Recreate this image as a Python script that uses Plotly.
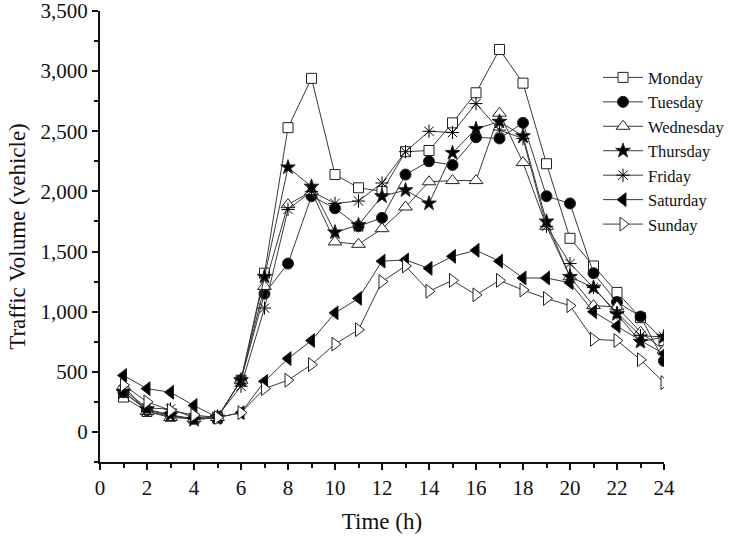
import plotly.graph_objects as go

hours = list(range(1, 25))
monday = [290, 170, 130, 110, 120, 430, 1320, 2530, 2940, 2140, 2030, 2000, 2330, 2340, 2570, 2820, 3180, 2900, 2230, 1610, 1380, 1160, 950, 760]
tuesday = [330, 180, 140, 110, 120, 430, 1150, 1400, 1960, 1860, 1710, 1780, 2140, 2250, 2220, 2450, 2440, 2570, 1960, 1900, 1320, 1080, 960, 590]
wednesday = [380, 170, 120, 110, 120, 430, 1210, 1890, 2000, 1580, 1560, 1690, 1870, 2080, 2090, 2090, 2650, 2240, 1710, 1290, 1050, 1040, 830, 680]
thursday = [330, 190, 140, 100, 120, 430, 1290, 2200, 2040, 1660, 1720, 1960, 2010, 1900, 2320, 2520, 2580, 2460, 1750, 1290, 1200, 980, 750, 790]
friday = [350, 200, 190, 120, 130, 380, 1030, 1850, 2000, 1900, 1920, 2070, 2330, 2500, 2490, 2730, 2510, 2440, 1710, 1400, 1200, 990, 800, 790]
saturday = [470, 360, 330, 220, 120, 160, 420, 610, 760, 990, 1110, 1420, 1430, 1360, 1460, 1510, 1420, 1280, 1280, 1240, 1000, 880, 760, 650]
sunday = [390, 250, 180, 140, 120, 160, 360, 430, 560, 730, 850, 1250, 1380, 1170, 1260, 1140, 1260, 1180, 1110, 1050, 770, 760, 600, 410]

series = [
    ("Monday", monday, "square", "white", 10),
    ("Tuesday", tuesday, "circle", "black", 11),
    ("Wednesday", wednesday, "triangle-up", "white", 12),
    ("Thursday", thursday, "star", "black", 11),
    ("Friday", friday, "asterisk-open", "black", 11),
    ("Saturday", saturday, "triangle-left", "black", 12),
    ("Sunday", sunday, "triangle-right", "white", 12),
]

fig = go.Figure()
for name, vals, sym, fill, size in series:
    fig.add_trace(go.Scatter(
        x=hours, y=vals, name=name, mode="lines+markers",
        line=dict(color="#3a3a3a", width=1),
        marker=dict(symbol=sym, size=size, color=fill,
                    line=dict(color="#222222", width=1)),
    ))

font = "Liberation Serif, Times New Roman, serif"
fig.update_layout(
    width=743, height=541,
    margin=dict(l=100, r=79, t=11, b=79),
    paper_bgcolor="white", plot_bgcolor="white",
    font=dict(family=font, size=19, color="#111111"),
    showlegend=True,
    legend=dict(x=0.883, y=0.891, xanchor="left", yanchor="top",
                font=dict(family=font, size=16.5, color="#111111"),
                bgcolor="rgba(0,0,0,0)", tracegroupgap=0,
                itemwidth=40),
)
fig.update_xaxes(
    range=[0, 24], tickmode="linear", tick0=0, dtick=2,
    automargin=False, ticklabeloverflow="allow",
    showline=True, linecolor="#111111", linewidth=2,
    ticks="outside", ticklen=6, tickwidth=2, tickcolor="#111111",
    minor=dict(ticks="outside", ticklen=4, tickwidth=1.5, dtick=1, tickcolor="#111111"),
    showgrid=False, zeroline=False,
    title=dict(text="Time (h)", font=dict(family=font, size=23), standoff=14),
    tickfont=dict(family=font, size=21),
)
fig.update_yaxes(
    range=[-250, 3500], tickmode="linear", tick0=0, dtick=500,
    tickformat=",d", automargin=False, ticklabeloverflow="allow",
    showline=True, linecolor="#111111", linewidth=2,
    ticks="outside", ticklen=6, tickwidth=2, tickcolor="#111111",
    minor=dict(ticks="outside", ticklen=4, tickwidth=1.5, dtick=250, tickcolor="#111111"),
    showgrid=False, zeroline=False,
    title=dict(text="Traffic Volume (vehicle)", font=dict(family=font, size=23), standoff=8),
    tickfont=dict(family=font, size=21),
)
fig.write_html("out.html", config={"displayModeBar": False},
               post_script="document.body.style.margin='0px';")
